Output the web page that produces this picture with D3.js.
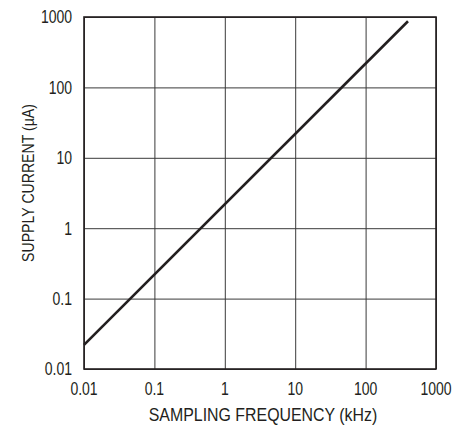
<!DOCTYPE html>
<html>
<head>
<meta charset="utf-8">
<script src="https://cdn.jsdelivr.net/npm/d3@7"></script>
<style>
  body { margin: 0; background: #fff; }
  text { font-family: "Liberation Sans", Arial, sans-serif; fill: #231f20; }
</style>
</head>
<body>
<div id="chart"></div>
<script>
// supply current vs sampling frequency (log-log, straight line)
let freqKHz = [0.01, 400];
let currentUA = [0.022, 870];
let xTicks = [0.01, 0.1, 1, 10, 100, 1000];
let yTicks = [0.01, 0.1, 1, 10, 100, 1000];
let xTickLabels = ["0.01", "0.1", "1", "10", "100", "1000"];
let yTickLabels = ["0.01", "0.1", "1", "10", "100", "1000"];

let width = 457, height = 425;
let plotLeft = 84, plotRight = 436, plotTop = 17, plotBottom = 369;
// no narrow font installed, so squeeze the text horizontally
let squeeze = 0.8;

let svg = d3.select("#chart")
    .append("svg")
    .attr("width", width)
    .attr("height", height);

let xScale = d3.scaleLog()
    .domain([0.01, 1000])
    .range([plotLeft, plotRight]);

let yScale = d3.scaleLog()
    .domain([0.01, 1000])
    .range([plotBottom, plotTop]);

// grid
svg.append("g")
    .attr("transform", "translate(0," + plotBottom + ")")
    .call(d3.axisBottom(xScale)
        .tickValues(xTicks)
        .tickSize(-(plotBottom - plotTop))
        .tickFormat(""))
    .call(g => g.select(".domain").remove())
    .selectAll("line")
    .attr("stroke", "#3a3a3a")
    .attr("stroke-width", 1);

svg.append("g")
    .attr("transform", "translate(" + plotLeft + ",0)")
    .call(d3.axisLeft(yScale)
        .tickValues(yTicks)
        .tickSize(-(plotRight - plotLeft))
        .tickFormat(""))
    .call(g => g.select(".domain").remove())
    .selectAll("line")
    .attr("stroke", "#3a3a3a")
    .attr("stroke-width", 1);

// frame
svg.append("rect")
    .attr("x", plotLeft)
    .attr("y", plotTop)
    .attr("width", plotRight - plotLeft)
    .attr("height", plotBottom - plotTop)
    .attr("fill", "none")
    .attr("stroke", "#231f20")
    .attr("stroke-width", 1.6);

// tick labels
svg.selectAll(".xlab")
    .data(xTicks)
    .enter()
    .append("text")
    .attr("class", "xlab")
    .attr("transform", d => "translate(" + xScale(d) + ",394.5) scale(" + squeeze + ",1)")
    .attr("text-anchor", "middle")
    .style("font-size", "17.5px")
    .text((d, i) => xTickLabels[i]);

svg.selectAll(".ylab")
    .data(yTicks)
    .enter()
    .append("text")
    .attr("class", "ylab")
    .attr("transform", d => "translate(72," + (yScale(d) + 6.3) + ") scale(" + squeeze + ",1)")
    .attr("text-anchor", "end")
    .style("font-size", "17.5px")
    .text((d, i) => yTickLabels[i]);

// axis titles
svg.append("text")
    .attr("transform", "translate(263,421) scale(0.86,1)")
    .attr("text-anchor", "middle")
    .style("font-size", "18.5px")
    .text("SAMPLING FREQUENCY (kHz)");

svg.append("text")
    .attr("transform", "translate(34,183) rotate(-90) scale(0.83,1)")
    .attr("text-anchor", "middle")
    .style("font-size", "17px")
    .text("SUPPLY CURRENT (µA)");

// the curve
let line = d3.line()
    .x(d => xScale(d[0]))
    .y(d => yScale(d[1]));

svg.append("path")
    .datum(freqKHz.map((f, i) => [f, currentUA[i]]))
    .attr("d", line)
    .attr("fill", "none")
    .attr("stroke", "#231f20")
    .attr("stroke-width", 2.6);
</script>
</body>
</html>
